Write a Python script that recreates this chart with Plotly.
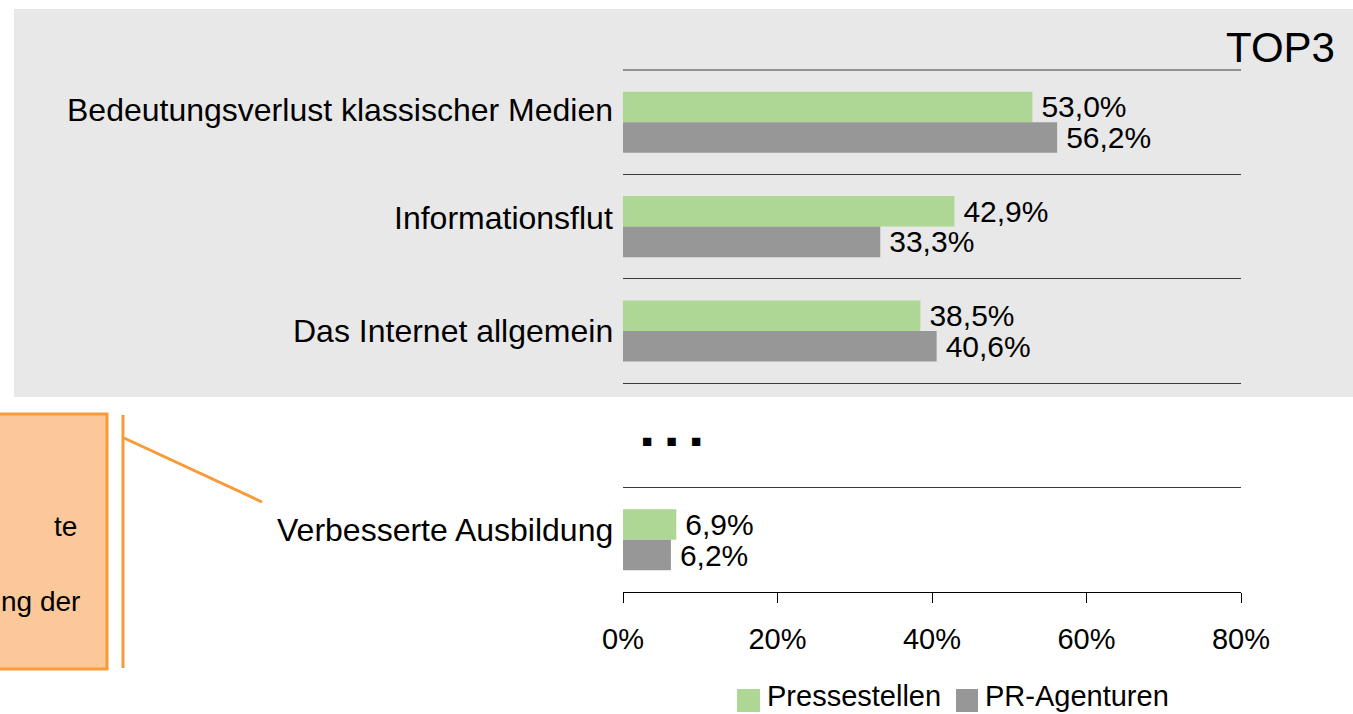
import plotly.graph_objects as go

# ---- data ----
categories = ["Bedeutungsverlust klassischer Medien", "Informationsflut",
              "Das Internet allgemein", " ", "Verbesserte Ausbildung"]
pressestellen = [53.0, 42.9, 38.5, None, 6.9]
pr_agenturen = [56.2, 33.3, 40.6, None, 6.2]
series_names = ["Pressestellen", "PR-Agenturen"]
x_ticks = [0, 20, 40, 60, 80]
x_tick_labels = ["0%", "20%", "40%", "60%", "80%"]

FONT = "Liberation Sans, Arial, sans-serif"
GREEN = "#AED796"
GRAY = "#979797"
ORANGE = "#F79A38"
ORANGE_FILL = "#FCC899"
PANEL = "#E8E8E8"
GRID = "#3A3A3A"

W, H = 1353, 714
L, R, T, B = 623, 1241, 70, 592  # plot area in pixels

# label vertical nudges (px, up is positive) as in the reference
label_shift = [12, 9, 0, 0, 10]


def px(xp):
    return (xp - L) / (R - L)


def py(yp):
    return (B - yp) / (B - T)


def fmt(v):
    if v is None:
        return ""
    return "\u2009" + f"{v:.1f}".replace(".", ",") + "%"


colors = [GREEN, GRAY]
fig = go.Figure()
for name, vals, col in [(series_names[0], pressestellen, colors[0]),
                        (series_names[1], pr_agenturen, colors[1])]:
    fig.add_trace(go.Bar(
        y=categories, x=vals, name=name, orientation="h",
        marker=dict(color=col, line=dict(width=0)),
        text=[fmt(v) for v in vals], textposition="outside",
        constraintext="none", cliponaxis=False,
        textfont=dict(family=FONT, size=30, color="black"),
        hoverinfo="skip", showlegend=False,
    ))

shapes = [
    # grey TOP3 panel
    dict(type="rect", xref="paper", yref="paper", x0=px(14), x1=px(1360),
         y0=py(397), y1=py(9), fillcolor=PANEL, line=dict(width=0), layer="below"),
    # top category boundary line
    dict(type="line", xref="paper", yref="paper", x0=0, x1=1, y0=1, y1=1,
         line=dict(color=GRID, width=1)),
    # orange box
    dict(type="rect", xref="paper", yref="paper", x0=px(-10), x1=px(107),
         y0=py(669), y1=py(414), fillcolor=ORANGE_FILL,
         line=dict(color=ORANGE, width=3), layer="below"),
    # orange bracket line
    dict(type="line", xref="paper", yref="paper", x0=px(123), x1=px(123),
         y0=py(415), y1=py(668), line=dict(color=ORANGE, width=3)),
    # orange pointer line
    dict(type="line", xref="paper", yref="paper", x0=px(124), x1=px(262),
         y0=py(438), y1=py(502), line=dict(color=ORANGE, width=3)),
    # legend swatches
    dict(type="rect", xref="paper", yref="paper", x0=px(737), x1=px(760),
         y0=py(712), y1=py(689), fillcolor=colors[0], line=dict(width=0)),
    dict(type="rect", xref="paper", yref="paper", x0=px(956), x1=px(978),
         y0=py(712), y1=py(689), fillcolor=colors[1], line=dict(width=0)),
]

annotations = [
    dict(text="TOP3", xref="paper", yref="paper", x=px(1337), y=py(47),
         xanchor="right", yanchor="middle", showarrow=False,
         font=dict(family=FONT, size=42, color="black")),
    dict(text="■   ■   ■", xref="paper", yref="paper", x=px(671), y=py(441),
         xanchor="center", yanchor="middle", showarrow=False,
         font=dict(family=FONT, size=17, color="black")),
    dict(text="te", xref="paper", yref="paper", x=px(79), y=py(526),
         xanchor="right", yanchor="middle", showarrow=False,
         font=dict(family=FONT, size=28, color="black")),
    dict(text="ng der", xref="paper", yref="paper", x=px(82), y=py(601),
         xanchor="right", yanchor="middle", showarrow=False,
         font=dict(family=FONT, size=28, color="black")),
    # legend texts
    dict(text=series_names[0], xref="paper", yref="paper", x=px(765), y=py(696),
         xanchor="left", yanchor="middle", showarrow=False,
         font=dict(family=FONT, size=29, color="black")),
    dict(text=series_names[1], xref="paper", yref="paper", x=px(983), y=py(696),
         xanchor="left", yanchor="middle", showarrow=False,
         font=dict(family=FONT, size=29, color="black")),
]

# category labels (as annotations so each can sit where the reference has it)
for cat, dy in zip(categories, label_shift):
    if not cat.strip():
        continue
    annotations.append(dict(
        text=cat, xref="paper", yref="y", x=px(615), y=cat, yshift=dy,
        xanchor="right", yanchor="middle", showarrow=False,
        font=dict(family=FONT, size=32, color="black")))

fig.update_layout(
    width=W, height=H,
    margin=dict(l=L, r=W - R, t=T, b=H - B, pad=0, autoexpand=False),
    paper_bgcolor="white", plot_bgcolor="rgba(0,0,0,0)",
    barmode="group", bargap=0.415, bargroupgap=0,
    font=dict(family=FONT, size=29, color="black"),
    shapes=shapes, annotations=annotations,
    showlegend=False,
)
fig.update_xaxes(range=[0, 80], tickvals=x_ticks, ticktext=x_tick_labels,
                 showgrid=False, zeroline=False, showline=True, linecolor="black",
                 linewidth=1, ticks="outside", ticklen=10, tickcolor="black",
                 ticklabelstandoff=11,
                 tickfont=dict(family=FONT, size=29, color="black"), fixedrange=True)
fig.update_yaxes(type="category", categoryorder="array", categoryarray=categories,
                 range=[4.5, -0.5], tickson="boundaries", ticks="",
                 showgrid=True, gridcolor=GRID, gridwidth=1, showticklabels=False,
                 showline=False, zeroline=False, fixedrange=True)

fig.write_html("out.html", config={"displayModeBar": False},
               post_script="document.body.style.margin='0';")
